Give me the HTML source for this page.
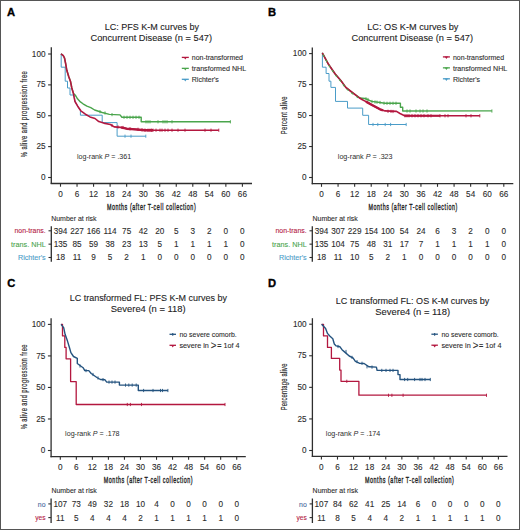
<!DOCTYPE html>
<html><head><meta charset="utf-8"><style>
html,body{margin:0;padding:0;background:#fff;}
body{width:520px;height:530px;overflow:hidden;}
svg{display:block;font-family:"Liberation Sans", sans-serif;}
</style></head><body>
<svg width="520" height="530" viewBox="0 0 520 530">
<rect x="0" y="0" width="520" height="530" fill="#fff"/>
<g>
<line x1="51.30" y1="47.30" x2="51.30" y2="184.10" stroke="#2e2e2e" stroke-width="1.3"/>
<line x1="50.70" y1="183.50" x2="252.00" y2="183.50" stroke="#2e2e2e" stroke-width="1.3"/>
<line x1="48.10" y1="177.50" x2="51.30" y2="177.50" stroke="#2e2e2e" stroke-width="1.1"/>
<text x="45.50" y="180.10" font-size="8.2" text-anchor="end" fill="#2c2c2c" stroke="#2c2c2c" stroke-width="0.1" >0</text>
<line x1="48.10" y1="146.62" x2="51.30" y2="146.62" stroke="#2e2e2e" stroke-width="1.1"/>
<text x="45.50" y="149.22" font-size="8.2" text-anchor="end" fill="#2c2c2c" stroke="#2c2c2c" stroke-width="0.1" >25</text>
<line x1="48.10" y1="115.75" x2="51.30" y2="115.75" stroke="#2e2e2e" stroke-width="1.1"/>
<text x="45.50" y="118.35" font-size="8.2" text-anchor="end" fill="#2c2c2c" stroke="#2c2c2c" stroke-width="0.1" >50</text>
<line x1="48.10" y1="84.88" x2="51.30" y2="84.88" stroke="#2e2e2e" stroke-width="1.1"/>
<text x="45.50" y="87.47" font-size="8.2" text-anchor="end" fill="#2c2c2c" stroke="#2c2c2c" stroke-width="0.1" >75</text>
<line x1="48.10" y1="54.00" x2="51.30" y2="54.00" stroke="#2e2e2e" stroke-width="1.1"/>
<text x="45.50" y="56.60" font-size="8.2" text-anchor="end" fill="#2c2c2c" stroke="#2c2c2c" stroke-width="0.1" >100</text>
<line x1="60.50" y1="183.50" x2="60.50" y2="186.70" stroke="#2e2e2e" stroke-width="1.1"/>
<text x="60.50" y="196.70" font-size="8.2" text-anchor="middle" fill="#2c2c2c" stroke="#2c2c2c" stroke-width="0.1" >0</text>
<line x1="77.04" y1="183.50" x2="77.04" y2="186.70" stroke="#2e2e2e" stroke-width="1.1"/>
<text x="77.04" y="196.70" font-size="8.2" text-anchor="middle" fill="#2c2c2c" stroke="#2c2c2c" stroke-width="0.1" >6</text>
<line x1="93.57" y1="183.50" x2="93.57" y2="186.70" stroke="#2e2e2e" stroke-width="1.1"/>
<text x="93.57" y="196.70" font-size="8.2" text-anchor="middle" fill="#2c2c2c" stroke="#2c2c2c" stroke-width="0.1" >12</text>
<line x1="110.11" y1="183.50" x2="110.11" y2="186.70" stroke="#2e2e2e" stroke-width="1.1"/>
<text x="110.11" y="196.70" font-size="8.2" text-anchor="middle" fill="#2c2c2c" stroke="#2c2c2c" stroke-width="0.1" >18</text>
<line x1="126.65" y1="183.50" x2="126.65" y2="186.70" stroke="#2e2e2e" stroke-width="1.1"/>
<text x="126.65" y="196.70" font-size="8.2" text-anchor="middle" fill="#2c2c2c" stroke="#2c2c2c" stroke-width="0.1" >24</text>
<line x1="143.18" y1="183.50" x2="143.18" y2="186.70" stroke="#2e2e2e" stroke-width="1.1"/>
<text x="143.18" y="196.70" font-size="8.2" text-anchor="middle" fill="#2c2c2c" stroke="#2c2c2c" stroke-width="0.1" >30</text>
<line x1="159.72" y1="183.50" x2="159.72" y2="186.70" stroke="#2e2e2e" stroke-width="1.1"/>
<text x="159.72" y="196.70" font-size="8.2" text-anchor="middle" fill="#2c2c2c" stroke="#2c2c2c" stroke-width="0.1" >36</text>
<line x1="176.25" y1="183.50" x2="176.25" y2="186.70" stroke="#2e2e2e" stroke-width="1.1"/>
<text x="176.25" y="196.70" font-size="8.2" text-anchor="middle" fill="#2c2c2c" stroke="#2c2c2c" stroke-width="0.1" >42</text>
<line x1="192.79" y1="183.50" x2="192.79" y2="186.70" stroke="#2e2e2e" stroke-width="1.1"/>
<text x="192.79" y="196.70" font-size="8.2" text-anchor="middle" fill="#2c2c2c" stroke="#2c2c2c" stroke-width="0.1" >48</text>
<line x1="209.33" y1="183.50" x2="209.33" y2="186.70" stroke="#2e2e2e" stroke-width="1.1"/>
<text x="209.33" y="196.70" font-size="8.2" text-anchor="middle" fill="#2c2c2c" stroke="#2c2c2c" stroke-width="0.1" >54</text>
<line x1="225.86" y1="183.50" x2="225.86" y2="186.70" stroke="#2e2e2e" stroke-width="1.1"/>
<text x="225.86" y="196.70" font-size="8.2" text-anchor="middle" fill="#2c2c2c" stroke="#2c2c2c" stroke-width="0.1" >60</text>
<line x1="242.40" y1="183.50" x2="242.40" y2="186.70" stroke="#2e2e2e" stroke-width="1.1"/>
<text x="242.40" y="196.70" font-size="8.2" text-anchor="middle" fill="#2c2c2c" stroke="#2c2c2c" stroke-width="0.1" >66</text>
<text x="0" y="0" font-size="9.8" fill="#1e1e1e" stroke="#1e1e1e" stroke-width="0.4" transform="translate(106.90,209.60) scale(0.55,1)" textLength="161.45" lengthAdjust="spacing">Months (after T-cell collection)</text>
<text x="0" y="0" font-size="9.6" text-anchor="middle" fill="#222" stroke="#222" stroke-width="0.15" transform="translate(26.70,114.20) rotate(-90) scale(0.6,1)" textLength="143.33" lengthAdjust="spacing">% alive and progression free</text>
<text x="151.85" y="30.40" font-size="9.5" text-anchor="middle" fill="#222" stroke="#222" stroke-width="0.1" textLength="94.20" lengthAdjust="spacingAndGlyphs" >LC: PFS K-M curves by</text>
<text x="151.25" y="41.30" font-size="9.5" text-anchor="middle" fill="#222" stroke="#222" stroke-width="0.1" textLength="121.50" lengthAdjust="spacingAndGlyphs" >Concurrent Disease (n = 547)</text>
<text x="6.90" y="16.30" font-size="11.2" text-anchor="start" fill="#000" font-weight="bold" stroke="#000" stroke-width="0.35">A</text>
<text x="77.00" y="159.10" font-size="7.1" fill="#2c2c2c" textLength="54.20" lengthAdjust="spacingAndGlyphs">log-rank <tspan font-style="italic">P</tspan> = .361</text>
<line x1="181.80" y1="57.40" x2="188.80" y2="57.40" stroke="#b3173f" stroke-width="1.3"/>
<path d="M183.60,57.10 L187.00,57.10 L185.30,59.60 Z" fill="#b3173f"/>
<text x="191.80" y="60.10" font-size="7.5" text-anchor="start" fill="#2c2c2c" stroke="#2c2c2c" stroke-width="0.1" textLength="51.20" lengthAdjust="spacingAndGlyphs" >non-transformed</text>
<line x1="181.80" y1="68.35" x2="188.80" y2="68.35" stroke="#4aa54c" stroke-width="1.3"/>
<path d="M183.60,68.05 L187.00,68.05 L185.30,70.55 Z" fill="#4aa54c"/>
<text x="191.80" y="71.05" font-size="7.5" text-anchor="start" fill="#2c2c2c" stroke="#2c2c2c" stroke-width="0.1" textLength="54.40" lengthAdjust="spacingAndGlyphs" >transformed NHL</text>
<line x1="181.80" y1="79.30" x2="188.80" y2="79.30" stroke="#4a9cc8" stroke-width="1.3"/>
<path d="M183.60,79.00 L187.00,79.00 L185.30,81.50 Z" fill="#4a9cc8"/>
<text x="191.80" y="82.00" font-size="7.5" text-anchor="start" fill="#2c2c2c" stroke="#2c2c2c" stroke-width="0.1" textLength="27.10" lengthAdjust="spacingAndGlyphs" >Richter's</text>
<text x="51.20" y="221.10" font-size="7.1" text-anchor="start" fill="#2c2c2c" stroke="#2c2c2c" stroke-width="0.1" textLength="45.30" lengthAdjust="spacingAndGlyphs" >Number at risk</text>
<line x1="51.30" y1="226.20" x2="51.30" y2="261.80" stroke="#2e2e2e" stroke-width="1.3"/>
<line x1="48.50" y1="230.80" x2="51.30" y2="230.80" stroke="#2e2e2e" stroke-width="1.1"/>
<text x="45.70" y="233.40" font-size="7.3" text-anchor="end" fill="#b3173f" stroke="#b3173f" stroke-width="0.1" textLength="31.20" lengthAdjust="spacingAndGlyphs" >non-trans.</text>
<text x="60.50" y="233.70" font-size="8.2" text-anchor="middle" fill="#2c2c2c" stroke="#2c2c2c" stroke-width="0.1" >394</text>
<text x="77.04" y="233.70" font-size="8.2" text-anchor="middle" fill="#2c2c2c" stroke="#2c2c2c" stroke-width="0.1" >227</text>
<text x="93.57" y="233.70" font-size="8.2" text-anchor="middle" fill="#2c2c2c" stroke="#2c2c2c" stroke-width="0.1" >166</text>
<text x="110.11" y="233.70" font-size="8.2" text-anchor="middle" fill="#2c2c2c" stroke="#2c2c2c" stroke-width="0.1" >114</text>
<text x="126.65" y="233.70" font-size="8.2" text-anchor="middle" fill="#2c2c2c" stroke="#2c2c2c" stroke-width="0.1" >75</text>
<text x="143.18" y="233.70" font-size="8.2" text-anchor="middle" fill="#2c2c2c" stroke="#2c2c2c" stroke-width="0.1" >42</text>
<text x="159.72" y="233.70" font-size="8.2" text-anchor="middle" fill="#2c2c2c" stroke="#2c2c2c" stroke-width="0.1" >20</text>
<text x="176.25" y="233.70" font-size="8.2" text-anchor="middle" fill="#2c2c2c" stroke="#2c2c2c" stroke-width="0.1" >5</text>
<text x="192.79" y="233.70" font-size="8.2" text-anchor="middle" fill="#2c2c2c" stroke="#2c2c2c" stroke-width="0.1" >3</text>
<text x="209.33" y="233.70" font-size="8.2" text-anchor="middle" fill="#2c2c2c" stroke="#2c2c2c" stroke-width="0.1" >2</text>
<text x="225.86" y="233.70" font-size="8.2" text-anchor="middle" fill="#2c2c2c" stroke="#2c2c2c" stroke-width="0.1" >0</text>
<text x="242.40" y="233.70" font-size="8.2" text-anchor="middle" fill="#2c2c2c" stroke="#2c2c2c" stroke-width="0.1" >0</text>
<line x1="48.50" y1="244.15" x2="51.30" y2="244.15" stroke="#2e2e2e" stroke-width="1.1"/>
<text x="45.70" y="246.75" font-size="7.3" text-anchor="end" fill="#4aa54c" stroke="#4aa54c" stroke-width="0.1" textLength="34.60" lengthAdjust="spacingAndGlyphs" >trans. NHL</text>
<text x="60.50" y="247.05" font-size="8.2" text-anchor="middle" fill="#2c2c2c" stroke="#2c2c2c" stroke-width="0.1" >135</text>
<text x="77.04" y="247.05" font-size="8.2" text-anchor="middle" fill="#2c2c2c" stroke="#2c2c2c" stroke-width="0.1" >85</text>
<text x="93.57" y="247.05" font-size="8.2" text-anchor="middle" fill="#2c2c2c" stroke="#2c2c2c" stroke-width="0.1" >59</text>
<text x="110.11" y="247.05" font-size="8.2" text-anchor="middle" fill="#2c2c2c" stroke="#2c2c2c" stroke-width="0.1" >38</text>
<text x="126.65" y="247.05" font-size="8.2" text-anchor="middle" fill="#2c2c2c" stroke="#2c2c2c" stroke-width="0.1" >23</text>
<text x="143.18" y="247.05" font-size="8.2" text-anchor="middle" fill="#2c2c2c" stroke="#2c2c2c" stroke-width="0.1" >13</text>
<text x="159.72" y="247.05" font-size="8.2" text-anchor="middle" fill="#2c2c2c" stroke="#2c2c2c" stroke-width="0.1" >5</text>
<text x="176.25" y="247.05" font-size="8.2" text-anchor="middle" fill="#2c2c2c" stroke="#2c2c2c" stroke-width="0.1" >1</text>
<text x="192.79" y="247.05" font-size="8.2" text-anchor="middle" fill="#2c2c2c" stroke="#2c2c2c" stroke-width="0.1" >1</text>
<text x="209.33" y="247.05" font-size="8.2" text-anchor="middle" fill="#2c2c2c" stroke="#2c2c2c" stroke-width="0.1" >1</text>
<text x="225.86" y="247.05" font-size="8.2" text-anchor="middle" fill="#2c2c2c" stroke="#2c2c2c" stroke-width="0.1" >1</text>
<text x="242.40" y="247.05" font-size="8.2" text-anchor="middle" fill="#2c2c2c" stroke="#2c2c2c" stroke-width="0.1" >0</text>
<line x1="48.50" y1="257.50" x2="51.30" y2="257.50" stroke="#2e2e2e" stroke-width="1.1"/>
<text x="45.70" y="260.10" font-size="7.3" text-anchor="end" fill="#4a9cc8" stroke="#4a9cc8" stroke-width="0.1" textLength="27.70" lengthAdjust="spacingAndGlyphs" >Richter's</text>
<text x="60.50" y="260.40" font-size="8.2" text-anchor="middle" fill="#2c2c2c" stroke="#2c2c2c" stroke-width="0.1" >18</text>
<text x="77.04" y="260.40" font-size="8.2" text-anchor="middle" fill="#2c2c2c" stroke="#2c2c2c" stroke-width="0.1" >11</text>
<text x="93.57" y="260.40" font-size="8.2" text-anchor="middle" fill="#2c2c2c" stroke="#2c2c2c" stroke-width="0.1" >9</text>
<text x="110.11" y="260.40" font-size="8.2" text-anchor="middle" fill="#2c2c2c" stroke="#2c2c2c" stroke-width="0.1" >5</text>
<text x="126.65" y="260.40" font-size="8.2" text-anchor="middle" fill="#2c2c2c" stroke="#2c2c2c" stroke-width="0.1" >2</text>
<text x="143.18" y="260.40" font-size="8.2" text-anchor="middle" fill="#2c2c2c" stroke="#2c2c2c" stroke-width="0.1" >1</text>
<text x="159.72" y="260.40" font-size="8.2" text-anchor="middle" fill="#2c2c2c" stroke="#2c2c2c" stroke-width="0.1" >0</text>
<text x="176.25" y="260.40" font-size="8.2" text-anchor="middle" fill="#2c2c2c" stroke="#2c2c2c" stroke-width="0.1" >0</text>
<text x="192.79" y="260.40" font-size="8.2" text-anchor="middle" fill="#2c2c2c" stroke="#2c2c2c" stroke-width="0.1" >0</text>
<text x="209.33" y="260.40" font-size="8.2" text-anchor="middle" fill="#2c2c2c" stroke="#2c2c2c" stroke-width="0.1" >0</text>
<text x="225.86" y="260.40" font-size="8.2" text-anchor="middle" fill="#2c2c2c" stroke="#2c2c2c" stroke-width="0.1" >0</text>
<text x="242.40" y="260.40" font-size="8.2" text-anchor="middle" fill="#2c2c2c" stroke="#2c2c2c" stroke-width="0.1" >0</text>
<polyline points="61.20,53.80 61.20,67.20 65.20,67.20 65.20,81.20 67.50,81.20 67.50,88.00 70.00,88.00 70.00,95.00 73.80,95.00 74.20,97.70 75.00,101.50 77.70,106.20 80.40,110.40 80.40,115.20 102.20,115.20 102.20,122.60 117.10,122.60 117.10,136.20 145.80,136.20" fill="none" stroke="#4a9cc8" stroke-width="1.0" stroke-linejoin="round" />
<line x1="125.00" y1="134.60" x2="125.00" y2="137.80" stroke="#4a9cc8" stroke-width="0.9"/>
<line x1="131.00" y1="134.60" x2="131.00" y2="137.80" stroke="#4a9cc8" stroke-width="0.9"/>
<line x1="145.80" y1="134.60" x2="145.80" y2="137.80" stroke="#4a9cc8" stroke-width="0.9"/>
<polyline points="61.00,53.80 63.30,55.70 64.50,58.00 65.60,63.40 66.80,70.30 68.70,76.50 70.60,81.80 71.80,88.00 73.50,93.40 75.60,95.60 77.50,98.80 80.40,101.90 83.00,103.80 86.90,106.20 90.80,107.70 94.60,110.00 99.20,111.50 102.20,112.50 109.40,114.40 120.00,114.90 121.90,117.30 141.20,117.30 141.20,121.70 230.40,121.80" fill="none" stroke="#4aa54c" stroke-width="1.4" stroke-linejoin="round" />
<line x1="100.00" y1="110.10" x2="100.00" y2="113.30" stroke="#4aa54c" stroke-width="0.9"/>
<line x1="105.00" y1="111.40" x2="105.00" y2="114.60" stroke="#4aa54c" stroke-width="0.9"/>
<line x1="112.00" y1="113.00" x2="112.00" y2="116.20" stroke="#4aa54c" stroke-width="0.9"/>
<line x1="124.00" y1="115.70" x2="124.00" y2="118.90" stroke="#4aa54c" stroke-width="0.9"/>
<line x1="127.00" y1="115.70" x2="127.00" y2="118.90" stroke="#4aa54c" stroke-width="0.9"/>
<line x1="130.00" y1="115.70" x2="130.00" y2="118.90" stroke="#4aa54c" stroke-width="0.9"/>
<line x1="133.00" y1="115.70" x2="133.00" y2="118.90" stroke="#4aa54c" stroke-width="0.9"/>
<line x1="136.00" y1="115.70" x2="136.00" y2="118.90" stroke="#4aa54c" stroke-width="0.9"/>
<line x1="139.00" y1="115.70" x2="139.00" y2="118.90" stroke="#4aa54c" stroke-width="0.9"/>
<line x1="146.00" y1="120.20" x2="146.00" y2="123.40" stroke="#4aa54c" stroke-width="0.9"/>
<line x1="148.00" y1="120.20" x2="148.00" y2="123.40" stroke="#4aa54c" stroke-width="0.9"/>
<line x1="150.00" y1="120.20" x2="150.00" y2="123.40" stroke="#4aa54c" stroke-width="0.9"/>
<line x1="158.00" y1="120.20" x2="158.00" y2="123.40" stroke="#4aa54c" stroke-width="0.9"/>
<line x1="163.00" y1="120.20" x2="163.00" y2="123.40" stroke="#4aa54c" stroke-width="0.9"/>
<line x1="165.00" y1="120.20" x2="165.00" y2="123.40" stroke="#4aa54c" stroke-width="0.9"/>
<line x1="167.00" y1="120.20" x2="167.00" y2="123.40" stroke="#4aa54c" stroke-width="0.9"/>
<line x1="172.00" y1="120.20" x2="172.00" y2="123.40" stroke="#4aa54c" stroke-width="0.9"/>
<line x1="230.40" y1="120.20" x2="230.40" y2="123.40" stroke="#4aa54c" stroke-width="0.9"/>
<polyline points="61.00,53.80 63.30,55.70 64.50,58.00 65.60,63.40 66.80,70.30 68.70,76.50 70.60,81.80 71.80,88.00 73.50,93.80 74.20,97.70 75.00,101.50 77.70,106.20 80.80,110.80 85.40,114.20 90.00,116.90 95.00,118.50 98.80,121.60 103.70,123.10 110.40,124.50 114.20,126.90 121.00,127.40 126.70,128.70 135.40,129.40 145.00,130.20 160.00,130.20 218.80,130.20" fill="none" stroke="#b3173f" stroke-width="1.6" stroke-linejoin="round" />
<polyline points="121.00,127.40 126.70,128.70 135.40,129.40 145.00,130.20 153.00,130.20" fill="none" stroke="#b3173f" stroke-width="2.4" stroke-linejoin="round" />
<line x1="112.00" y1="123.90" x2="112.00" y2="127.10" stroke="#b3173f" stroke-width="0.9"/>
<line x1="118.00" y1="125.40" x2="118.00" y2="128.60" stroke="#b3173f" stroke-width="0.9"/>
<line x1="123.00" y1="125.90" x2="123.00" y2="129.10" stroke="#b3173f" stroke-width="0.9"/>
<line x1="130.00" y1="127.20" x2="130.00" y2="130.40" stroke="#b3173f" stroke-width="0.9"/>
<line x1="138.00" y1="127.70" x2="138.00" y2="130.90" stroke="#b3173f" stroke-width="0.9"/>
<line x1="142.00" y1="128.20" x2="142.00" y2="131.40" stroke="#b3173f" stroke-width="0.9"/>
<line x1="145.00" y1="128.50" x2="145.00" y2="131.70" stroke="#b3173f" stroke-width="0.9"/>
<line x1="148.00" y1="128.60" x2="148.00" y2="131.80" stroke="#b3173f" stroke-width="0.9"/>
<line x1="150.00" y1="128.60" x2="150.00" y2="131.80" stroke="#b3173f" stroke-width="0.9"/>
<line x1="151.50" y1="128.60" x2="151.50" y2="131.80" stroke="#b3173f" stroke-width="0.9"/>
<line x1="153.00" y1="128.60" x2="153.00" y2="131.80" stroke="#b3173f" stroke-width="0.9"/>
<line x1="156.00" y1="128.60" x2="156.00" y2="131.80" stroke="#b3173f" stroke-width="0.9"/>
<line x1="160.00" y1="128.60" x2="160.00" y2="131.80" stroke="#b3173f" stroke-width="0.9"/>
<line x1="162.00" y1="128.60" x2="162.00" y2="131.80" stroke="#b3173f" stroke-width="0.9"/>
<line x1="165.00" y1="128.60" x2="165.00" y2="131.80" stroke="#b3173f" stroke-width="0.9"/>
<line x1="168.00" y1="128.60" x2="168.00" y2="131.80" stroke="#b3173f" stroke-width="0.9"/>
<line x1="172.00" y1="128.60" x2="172.00" y2="131.80" stroke="#b3173f" stroke-width="0.9"/>
<line x1="178.00" y1="128.60" x2="178.00" y2="131.80" stroke="#b3173f" stroke-width="0.9"/>
<line x1="185.00" y1="128.60" x2="185.00" y2="131.80" stroke="#b3173f" stroke-width="0.9"/>
<line x1="205.00" y1="128.60" x2="205.00" y2="131.80" stroke="#b3173f" stroke-width="0.9"/>
<line x1="211.00" y1="128.60" x2="211.00" y2="131.80" stroke="#b3173f" stroke-width="0.9"/>
<line x1="218.80" y1="128.60" x2="218.80" y2="131.80" stroke="#b3173f" stroke-width="0.9"/>
<line x1="312.30" y1="47.50" x2="312.30" y2="184.20" stroke="#2e2e2e" stroke-width="1.3"/>
<line x1="311.70" y1="183.60" x2="513.30" y2="183.60" stroke="#2e2e2e" stroke-width="1.3"/>
<line x1="309.10" y1="177.50" x2="312.30" y2="177.50" stroke="#2e2e2e" stroke-width="1.1"/>
<text x="306.50" y="180.10" font-size="8.2" text-anchor="end" fill="#2c2c2c" stroke="#2c2c2c" stroke-width="0.1" >0</text>
<line x1="309.10" y1="146.53" x2="312.30" y2="146.53" stroke="#2e2e2e" stroke-width="1.1"/>
<text x="306.50" y="149.12" font-size="8.2" text-anchor="end" fill="#2c2c2c" stroke="#2c2c2c" stroke-width="0.1" >25</text>
<line x1="309.10" y1="115.55" x2="312.30" y2="115.55" stroke="#2e2e2e" stroke-width="1.1"/>
<text x="306.50" y="118.15" font-size="8.2" text-anchor="end" fill="#2c2c2c" stroke="#2c2c2c" stroke-width="0.1" >50</text>
<line x1="309.10" y1="84.58" x2="312.30" y2="84.58" stroke="#2e2e2e" stroke-width="1.1"/>
<text x="306.50" y="87.17" font-size="8.2" text-anchor="end" fill="#2c2c2c" stroke="#2c2c2c" stroke-width="0.1" >75</text>
<line x1="309.10" y1="53.60" x2="312.30" y2="53.60" stroke="#2e2e2e" stroke-width="1.1"/>
<text x="306.50" y="56.20" font-size="8.2" text-anchor="end" fill="#2c2c2c" stroke="#2c2c2c" stroke-width="0.1" >100</text>
<line x1="321.50" y1="183.60" x2="321.50" y2="186.80" stroke="#2e2e2e" stroke-width="1.1"/>
<text x="321.50" y="196.80" font-size="8.2" text-anchor="middle" fill="#2c2c2c" stroke="#2c2c2c" stroke-width="0.1" >0</text>
<line x1="338.07" y1="183.60" x2="338.07" y2="186.80" stroke="#2e2e2e" stroke-width="1.1"/>
<text x="338.07" y="196.80" font-size="8.2" text-anchor="middle" fill="#2c2c2c" stroke="#2c2c2c" stroke-width="0.1" >6</text>
<line x1="354.65" y1="183.60" x2="354.65" y2="186.80" stroke="#2e2e2e" stroke-width="1.1"/>
<text x="354.65" y="196.80" font-size="8.2" text-anchor="middle" fill="#2c2c2c" stroke="#2c2c2c" stroke-width="0.1" >12</text>
<line x1="371.22" y1="183.60" x2="371.22" y2="186.80" stroke="#2e2e2e" stroke-width="1.1"/>
<text x="371.22" y="196.80" font-size="8.2" text-anchor="middle" fill="#2c2c2c" stroke="#2c2c2c" stroke-width="0.1" >18</text>
<line x1="387.79" y1="183.60" x2="387.79" y2="186.80" stroke="#2e2e2e" stroke-width="1.1"/>
<text x="387.79" y="196.80" font-size="8.2" text-anchor="middle" fill="#2c2c2c" stroke="#2c2c2c" stroke-width="0.1" >24</text>
<line x1="404.36" y1="183.60" x2="404.36" y2="186.80" stroke="#2e2e2e" stroke-width="1.1"/>
<text x="404.36" y="196.80" font-size="8.2" text-anchor="middle" fill="#2c2c2c" stroke="#2c2c2c" stroke-width="0.1" >30</text>
<line x1="420.94" y1="183.60" x2="420.94" y2="186.80" stroke="#2e2e2e" stroke-width="1.1"/>
<text x="420.94" y="196.80" font-size="8.2" text-anchor="middle" fill="#2c2c2c" stroke="#2c2c2c" stroke-width="0.1" >36</text>
<line x1="437.51" y1="183.60" x2="437.51" y2="186.80" stroke="#2e2e2e" stroke-width="1.1"/>
<text x="437.51" y="196.80" font-size="8.2" text-anchor="middle" fill="#2c2c2c" stroke="#2c2c2c" stroke-width="0.1" >42</text>
<line x1="454.08" y1="183.60" x2="454.08" y2="186.80" stroke="#2e2e2e" stroke-width="1.1"/>
<text x="454.08" y="196.80" font-size="8.2" text-anchor="middle" fill="#2c2c2c" stroke="#2c2c2c" stroke-width="0.1" >48</text>
<line x1="470.65" y1="183.60" x2="470.65" y2="186.80" stroke="#2e2e2e" stroke-width="1.1"/>
<text x="470.65" y="196.80" font-size="8.2" text-anchor="middle" fill="#2c2c2c" stroke="#2c2c2c" stroke-width="0.1" >54</text>
<line x1="487.23" y1="183.60" x2="487.23" y2="186.80" stroke="#2e2e2e" stroke-width="1.1"/>
<text x="487.23" y="196.80" font-size="8.2" text-anchor="middle" fill="#2c2c2c" stroke="#2c2c2c" stroke-width="0.1" >60</text>
<line x1="503.80" y1="183.60" x2="503.80" y2="186.80" stroke="#2e2e2e" stroke-width="1.1"/>
<text x="503.80" y="196.80" font-size="8.2" text-anchor="middle" fill="#2c2c2c" stroke="#2c2c2c" stroke-width="0.1" >66</text>
<text x="0" y="0" font-size="9.8" fill="#1e1e1e" stroke="#1e1e1e" stroke-width="0.4" transform="translate(368.50,209.50) scale(0.55,1)" textLength="161.45" lengthAdjust="spacing">Months (after T-cell collection)</text>
<text x="0" y="0" font-size="9.6" text-anchor="middle" fill="#222" stroke="#222" stroke-width="0.15" transform="translate(287.20,115.30) rotate(-90) scale(0.6,1)" textLength="62.83" lengthAdjust="spacing">Percent alive</text>
<text x="412.85" y="30.40" font-size="9.5" text-anchor="middle" fill="#222" stroke="#222" stroke-width="0.1" textLength="91.20" lengthAdjust="spacingAndGlyphs" >LC: OS K-M curves by</text>
<text x="412.25" y="41.30" font-size="9.5" text-anchor="middle" fill="#222" stroke="#222" stroke-width="0.1" textLength="121.50" lengthAdjust="spacingAndGlyphs" >Concurrent Disease (n = 547)</text>
<text x="268.10" y="16.20" font-size="11.2" text-anchor="start" fill="#000" font-weight="bold" stroke="#000" stroke-width="0.35">B</text>
<text x="337.80" y="159.10" font-size="7.1" fill="#2c2c2c" textLength="54.80" lengthAdjust="spacingAndGlyphs">log-rank <tspan font-style="italic">P</tspan> = .323</text>
<line x1="442.90" y1="56.90" x2="449.90" y2="56.90" stroke="#b3173f" stroke-width="1.3"/>
<path d="M444.70,56.60 L448.10,56.60 L446.40,59.10 Z" fill="#b3173f"/>
<text x="452.90" y="59.60" font-size="7.5" text-anchor="start" fill="#2c2c2c" stroke="#2c2c2c" stroke-width="0.1" textLength="51.20" lengthAdjust="spacingAndGlyphs" >non-transformed</text>
<line x1="442.90" y1="67.85" x2="449.90" y2="67.85" stroke="#4aa54c" stroke-width="1.3"/>
<path d="M444.70,67.55 L448.10,67.55 L446.40,70.05 Z" fill="#4aa54c"/>
<text x="452.90" y="70.55" font-size="7.5" text-anchor="start" fill="#2c2c2c" stroke="#2c2c2c" stroke-width="0.1" textLength="54.40" lengthAdjust="spacingAndGlyphs" >transformed NHL</text>
<line x1="442.90" y1="78.80" x2="449.90" y2="78.80" stroke="#4a9cc8" stroke-width="1.3"/>
<path d="M444.70,78.50 L448.10,78.50 L446.40,81.00 Z" fill="#4a9cc8"/>
<text x="452.90" y="81.50" font-size="7.5" text-anchor="start" fill="#2c2c2c" stroke="#2c2c2c" stroke-width="0.1" textLength="27.10" lengthAdjust="spacingAndGlyphs" >Richter's</text>
<text x="312.50" y="221.10" font-size="7.1" text-anchor="start" fill="#2c2c2c" stroke="#2c2c2c" stroke-width="0.1" textLength="45.30" lengthAdjust="spacingAndGlyphs" >Number at risk</text>
<line x1="312.30" y1="226.20" x2="312.30" y2="261.80" stroke="#2e2e2e" stroke-width="1.3"/>
<line x1="309.50" y1="230.80" x2="312.30" y2="230.80" stroke="#2e2e2e" stroke-width="1.1"/>
<text x="306.70" y="233.40" font-size="7.3" text-anchor="end" fill="#b3173f" stroke="#b3173f" stroke-width="0.1" textLength="31.20" lengthAdjust="spacingAndGlyphs" >non-trans.</text>
<text x="321.50" y="233.70" font-size="8.2" text-anchor="middle" fill="#2c2c2c" stroke="#2c2c2c" stroke-width="0.1" >394</text>
<text x="338.07" y="233.70" font-size="8.2" text-anchor="middle" fill="#2c2c2c" stroke="#2c2c2c" stroke-width="0.1" >307</text>
<text x="354.65" y="233.70" font-size="8.2" text-anchor="middle" fill="#2c2c2c" stroke="#2c2c2c" stroke-width="0.1" >229</text>
<text x="371.22" y="233.70" font-size="8.2" text-anchor="middle" fill="#2c2c2c" stroke="#2c2c2c" stroke-width="0.1" >154</text>
<text x="387.79" y="233.70" font-size="8.2" text-anchor="middle" fill="#2c2c2c" stroke="#2c2c2c" stroke-width="0.1" >100</text>
<text x="404.36" y="233.70" font-size="8.2" text-anchor="middle" fill="#2c2c2c" stroke="#2c2c2c" stroke-width="0.1" >54</text>
<text x="420.94" y="233.70" font-size="8.2" text-anchor="middle" fill="#2c2c2c" stroke="#2c2c2c" stroke-width="0.1" >24</text>
<text x="437.51" y="233.70" font-size="8.2" text-anchor="middle" fill="#2c2c2c" stroke="#2c2c2c" stroke-width="0.1" >6</text>
<text x="454.08" y="233.70" font-size="8.2" text-anchor="middle" fill="#2c2c2c" stroke="#2c2c2c" stroke-width="0.1" >3</text>
<text x="470.65" y="233.70" font-size="8.2" text-anchor="middle" fill="#2c2c2c" stroke="#2c2c2c" stroke-width="0.1" >2</text>
<text x="487.23" y="233.70" font-size="8.2" text-anchor="middle" fill="#2c2c2c" stroke="#2c2c2c" stroke-width="0.1" >0</text>
<text x="503.80" y="233.70" font-size="8.2" text-anchor="middle" fill="#2c2c2c" stroke="#2c2c2c" stroke-width="0.1" >0</text>
<line x1="309.50" y1="244.15" x2="312.30" y2="244.15" stroke="#2e2e2e" stroke-width="1.1"/>
<text x="306.70" y="246.75" font-size="7.3" text-anchor="end" fill="#4aa54c" stroke="#4aa54c" stroke-width="0.1" textLength="34.60" lengthAdjust="spacingAndGlyphs" >trans. NHL</text>
<text x="321.50" y="247.05" font-size="8.2" text-anchor="middle" fill="#2c2c2c" stroke="#2c2c2c" stroke-width="0.1" >135</text>
<text x="338.07" y="247.05" font-size="8.2" text-anchor="middle" fill="#2c2c2c" stroke="#2c2c2c" stroke-width="0.1" >104</text>
<text x="354.65" y="247.05" font-size="8.2" text-anchor="middle" fill="#2c2c2c" stroke="#2c2c2c" stroke-width="0.1" >75</text>
<text x="371.22" y="247.05" font-size="8.2" text-anchor="middle" fill="#2c2c2c" stroke="#2c2c2c" stroke-width="0.1" >48</text>
<text x="387.79" y="247.05" font-size="8.2" text-anchor="middle" fill="#2c2c2c" stroke="#2c2c2c" stroke-width="0.1" >31</text>
<text x="404.36" y="247.05" font-size="8.2" text-anchor="middle" fill="#2c2c2c" stroke="#2c2c2c" stroke-width="0.1" >17</text>
<text x="420.94" y="247.05" font-size="8.2" text-anchor="middle" fill="#2c2c2c" stroke="#2c2c2c" stroke-width="0.1" >7</text>
<text x="437.51" y="247.05" font-size="8.2" text-anchor="middle" fill="#2c2c2c" stroke="#2c2c2c" stroke-width="0.1" >1</text>
<text x="454.08" y="247.05" font-size="8.2" text-anchor="middle" fill="#2c2c2c" stroke="#2c2c2c" stroke-width="0.1" >1</text>
<text x="470.65" y="247.05" font-size="8.2" text-anchor="middle" fill="#2c2c2c" stroke="#2c2c2c" stroke-width="0.1" >1</text>
<text x="487.23" y="247.05" font-size="8.2" text-anchor="middle" fill="#2c2c2c" stroke="#2c2c2c" stroke-width="0.1" >1</text>
<text x="503.80" y="247.05" font-size="8.2" text-anchor="middle" fill="#2c2c2c" stroke="#2c2c2c" stroke-width="0.1" >0</text>
<line x1="309.50" y1="257.50" x2="312.30" y2="257.50" stroke="#2e2e2e" stroke-width="1.1"/>
<text x="306.70" y="260.10" font-size="7.3" text-anchor="end" fill="#4a9cc8" stroke="#4a9cc8" stroke-width="0.1" textLength="27.70" lengthAdjust="spacingAndGlyphs" >Richter's</text>
<text x="321.50" y="260.40" font-size="8.2" text-anchor="middle" fill="#2c2c2c" stroke="#2c2c2c" stroke-width="0.1" >18</text>
<text x="338.07" y="260.40" font-size="8.2" text-anchor="middle" fill="#2c2c2c" stroke="#2c2c2c" stroke-width="0.1" >11</text>
<text x="354.65" y="260.40" font-size="8.2" text-anchor="middle" fill="#2c2c2c" stroke="#2c2c2c" stroke-width="0.1" >10</text>
<text x="371.22" y="260.40" font-size="8.2" text-anchor="middle" fill="#2c2c2c" stroke="#2c2c2c" stroke-width="0.1" >5</text>
<text x="387.79" y="260.40" font-size="8.2" text-anchor="middle" fill="#2c2c2c" stroke="#2c2c2c" stroke-width="0.1" >2</text>
<text x="404.36" y="260.40" font-size="8.2" text-anchor="middle" fill="#2c2c2c" stroke="#2c2c2c" stroke-width="0.1" >1</text>
<text x="420.94" y="260.40" font-size="8.2" text-anchor="middle" fill="#2c2c2c" stroke="#2c2c2c" stroke-width="0.1" >0</text>
<text x="437.51" y="260.40" font-size="8.2" text-anchor="middle" fill="#2c2c2c" stroke="#2c2c2c" stroke-width="0.1" >0</text>
<text x="454.08" y="260.40" font-size="8.2" text-anchor="middle" fill="#2c2c2c" stroke="#2c2c2c" stroke-width="0.1" >0</text>
<text x="470.65" y="260.40" font-size="8.2" text-anchor="middle" fill="#2c2c2c" stroke="#2c2c2c" stroke-width="0.1" >0</text>
<text x="487.23" y="260.40" font-size="8.2" text-anchor="middle" fill="#2c2c2c" stroke="#2c2c2c" stroke-width="0.1" >0</text>
<text x="503.80" y="260.40" font-size="8.2" text-anchor="middle" fill="#2c2c2c" stroke="#2c2c2c" stroke-width="0.1" >0</text>
<polyline points="322.40,52.80 322.40,52.80 322.40,67.20 326.10,67.20 326.10,73.50 329.00,73.50 329.00,81.20 330.90,81.20 330.90,87.40 335.50,87.40 335.50,101.40 347.50,101.40 347.50,108.10 362.70,108.10 362.70,115.30 368.60,115.30 368.60,124.50 406.20,124.50 406.20,124.50" fill="none" stroke="#4a9cc8" stroke-width="1.0" stroke-linejoin="round" />
<line x1="373.00" y1="122.90" x2="373.00" y2="126.10" stroke="#4a9cc8" stroke-width="0.9"/>
<line x1="377.80" y1="122.90" x2="377.80" y2="126.10" stroke="#4a9cc8" stroke-width="0.9"/>
<line x1="385.20" y1="122.90" x2="385.20" y2="126.10" stroke="#4a9cc8" stroke-width="0.9"/>
<line x1="390.60" y1="122.90" x2="390.60" y2="126.10" stroke="#4a9cc8" stroke-width="0.9"/>
<line x1="406.20" y1="122.90" x2="406.20" y2="126.10" stroke="#4a9cc8" stroke-width="0.9"/>
<polyline points="322.30,52.80 328.50,64.30 335.20,74.00 341.00,80.70 345.80,87.40 351.00,91.50 360.00,98.00 365.00,98.50 371.70,101.40 379.80,102.50 385.00,103.30 400.40,103.30 400.40,107.30 402.70,107.30 402.70,111.00 491.90,110.90" fill="none" stroke="#4aa54c" stroke-width="1.4" stroke-linejoin="round" />
<line x1="366.00" y1="97.20" x2="366.00" y2="100.40" stroke="#4aa54c" stroke-width="0.9"/>
<line x1="368.00" y1="97.90" x2="368.00" y2="101.10" stroke="#4aa54c" stroke-width="0.9"/>
<line x1="372.00" y1="99.90" x2="372.00" y2="103.10" stroke="#4aa54c" stroke-width="0.9"/>
<line x1="375.00" y1="100.40" x2="375.00" y2="103.60" stroke="#4aa54c" stroke-width="0.9"/>
<line x1="377.00" y1="100.60" x2="377.00" y2="103.80" stroke="#4aa54c" stroke-width="0.9"/>
<line x1="380.00" y1="100.90" x2="380.00" y2="104.10" stroke="#4aa54c" stroke-width="0.9"/>
<line x1="384.00" y1="101.60" x2="384.00" y2="104.80" stroke="#4aa54c" stroke-width="0.9"/>
<line x1="387.00" y1="101.70" x2="387.00" y2="104.90" stroke="#4aa54c" stroke-width="0.9"/>
<line x1="390.00" y1="101.70" x2="390.00" y2="104.90" stroke="#4aa54c" stroke-width="0.9"/>
<line x1="393.00" y1="101.70" x2="393.00" y2="104.90" stroke="#4aa54c" stroke-width="0.9"/>
<line x1="396.00" y1="101.70" x2="396.00" y2="104.90" stroke="#4aa54c" stroke-width="0.9"/>
<line x1="407.00" y1="109.40" x2="407.00" y2="112.60" stroke="#4aa54c" stroke-width="0.9"/>
<line x1="410.00" y1="109.40" x2="410.00" y2="112.60" stroke="#4aa54c" stroke-width="0.9"/>
<line x1="416.00" y1="109.40" x2="416.00" y2="112.60" stroke="#4aa54c" stroke-width="0.9"/>
<line x1="420.00" y1="109.40" x2="420.00" y2="112.60" stroke="#4aa54c" stroke-width="0.9"/>
<line x1="423.00" y1="109.40" x2="423.00" y2="112.60" stroke="#4aa54c" stroke-width="0.9"/>
<line x1="427.00" y1="109.40" x2="427.00" y2="112.60" stroke="#4aa54c" stroke-width="0.9"/>
<line x1="491.90" y1="109.40" x2="491.90" y2="112.60" stroke="#4aa54c" stroke-width="0.9"/>
<polyline points="322.30,52.80 328.50,64.30 335.20,74.00 341.00,80.70 345.80,87.40 351.00,91.50 360.00,98.30 362.00,99.50 366.00,101.60 372.00,105.00 380.00,109.30 385.00,110.90 396.50,111.40 400.00,113.50 404.60,115.70 479.80,115.80" fill="none" stroke="#b3173f" stroke-width="1.6" stroke-linejoin="round" />
<polyline points="366.00,101.60 372.00,105.00 380.00,109.30 383.00,110.30" fill="none" stroke="#b3173f" stroke-width="2.4" stroke-linejoin="round" />
<polyline points="404.60,115.70 440.00,115.80" fill="none" stroke="#b3173f" stroke-width="2.0" stroke-linejoin="round" />
<polyline points="323.00,54.50 329.00,65.60 335.60,75.30 341.30,82.00 346.00,88.60 351.00,92.60 360.00,99.20" fill="none" stroke="#4aa54c" stroke-width="1.1" stroke-linejoin="round" stroke-dasharray="2.5 3.5"/>
<line x1="388.00" y1="109.70" x2="388.00" y2="112.90" stroke="#b3173f" stroke-width="0.9"/>
<line x1="391.00" y1="109.80" x2="391.00" y2="113.00" stroke="#b3173f" stroke-width="0.9"/>
<line x1="393.00" y1="109.90" x2="393.00" y2="113.10" stroke="#b3173f" stroke-width="0.9"/>
<line x1="405.00" y1="114.20" x2="405.00" y2="117.40" stroke="#b3173f" stroke-width="0.9"/>
<line x1="407.00" y1="114.20" x2="407.00" y2="117.40" stroke="#b3173f" stroke-width="0.9"/>
<line x1="409.00" y1="114.20" x2="409.00" y2="117.40" stroke="#b3173f" stroke-width="0.9"/>
<line x1="412.00" y1="114.20" x2="412.00" y2="117.40" stroke="#b3173f" stroke-width="0.9"/>
<line x1="415.00" y1="114.20" x2="415.00" y2="117.40" stroke="#b3173f" stroke-width="0.9"/>
<line x1="418.00" y1="114.20" x2="418.00" y2="117.40" stroke="#b3173f" stroke-width="0.9"/>
<line x1="421.00" y1="114.20" x2="421.00" y2="117.40" stroke="#b3173f" stroke-width="0.9"/>
<line x1="424.00" y1="114.20" x2="424.00" y2="117.40" stroke="#b3173f" stroke-width="0.9"/>
<line x1="428.00" y1="114.20" x2="428.00" y2="117.40" stroke="#b3173f" stroke-width="0.9"/>
<line x1="431.00" y1="114.20" x2="431.00" y2="117.40" stroke="#b3173f" stroke-width="0.9"/>
<line x1="440.00" y1="114.20" x2="440.00" y2="117.40" stroke="#b3173f" stroke-width="0.9"/>
<line x1="445.00" y1="114.20" x2="445.00" y2="117.40" stroke="#b3173f" stroke-width="0.9"/>
<line x1="448.00" y1="114.20" x2="448.00" y2="117.40" stroke="#b3173f" stroke-width="0.9"/>
<line x1="466.00" y1="114.20" x2="466.00" y2="117.40" stroke="#b3173f" stroke-width="0.9"/>
<line x1="471.00" y1="114.20" x2="471.00" y2="117.40" stroke="#b3173f" stroke-width="0.9"/>
<line x1="479.80" y1="114.20" x2="479.80" y2="117.40" stroke="#b3173f" stroke-width="0.9"/>
<line x1="51.10" y1="318.20" x2="51.10" y2="457.20" stroke="#2e2e2e" stroke-width="1.3"/>
<line x1="50.50" y1="456.60" x2="245.80" y2="456.60" stroke="#2e2e2e" stroke-width="1.3"/>
<line x1="47.90" y1="450.50" x2="51.10" y2="450.50" stroke="#2e2e2e" stroke-width="1.1"/>
<text x="45.30" y="453.10" font-size="8.2" text-anchor="end" fill="#2c2c2c" stroke="#2c2c2c" stroke-width="0.1" >0</text>
<line x1="47.90" y1="418.98" x2="51.10" y2="418.98" stroke="#2e2e2e" stroke-width="1.1"/>
<text x="45.30" y="421.58" font-size="8.2" text-anchor="end" fill="#2c2c2c" stroke="#2c2c2c" stroke-width="0.1" >25</text>
<line x1="47.90" y1="387.45" x2="51.10" y2="387.45" stroke="#2e2e2e" stroke-width="1.1"/>
<text x="45.30" y="390.05" font-size="8.2" text-anchor="end" fill="#2c2c2c" stroke="#2c2c2c" stroke-width="0.1" >50</text>
<line x1="47.90" y1="355.92" x2="51.10" y2="355.92" stroke="#2e2e2e" stroke-width="1.1"/>
<text x="45.30" y="358.52" font-size="8.2" text-anchor="end" fill="#2c2c2c" stroke="#2c2c2c" stroke-width="0.1" >75</text>
<line x1="47.90" y1="324.40" x2="51.10" y2="324.40" stroke="#2e2e2e" stroke-width="1.1"/>
<text x="45.30" y="327.00" font-size="8.2" text-anchor="end" fill="#2c2c2c" stroke="#2c2c2c" stroke-width="0.1" >100</text>
<line x1="60.30" y1="456.60" x2="60.30" y2="459.80" stroke="#2e2e2e" stroke-width="1.1"/>
<text x="60.30" y="469.80" font-size="8.2" text-anchor="middle" fill="#2c2c2c" stroke="#2c2c2c" stroke-width="0.1" >0</text>
<line x1="76.34" y1="456.60" x2="76.34" y2="459.80" stroke="#2e2e2e" stroke-width="1.1"/>
<text x="76.34" y="469.80" font-size="8.2" text-anchor="middle" fill="#2c2c2c" stroke="#2c2c2c" stroke-width="0.1" >6</text>
<line x1="92.37" y1="456.60" x2="92.37" y2="459.80" stroke="#2e2e2e" stroke-width="1.1"/>
<text x="92.37" y="469.80" font-size="8.2" text-anchor="middle" fill="#2c2c2c" stroke="#2c2c2c" stroke-width="0.1" >12</text>
<line x1="108.41" y1="456.60" x2="108.41" y2="459.80" stroke="#2e2e2e" stroke-width="1.1"/>
<text x="108.41" y="469.80" font-size="8.2" text-anchor="middle" fill="#2c2c2c" stroke="#2c2c2c" stroke-width="0.1" >18</text>
<line x1="124.45" y1="456.60" x2="124.45" y2="459.80" stroke="#2e2e2e" stroke-width="1.1"/>
<text x="124.45" y="469.80" font-size="8.2" text-anchor="middle" fill="#2c2c2c" stroke="#2c2c2c" stroke-width="0.1" >24</text>
<line x1="140.48" y1="456.60" x2="140.48" y2="459.80" stroke="#2e2e2e" stroke-width="1.1"/>
<text x="140.48" y="469.80" font-size="8.2" text-anchor="middle" fill="#2c2c2c" stroke="#2c2c2c" stroke-width="0.1" >30</text>
<line x1="156.52" y1="456.60" x2="156.52" y2="459.80" stroke="#2e2e2e" stroke-width="1.1"/>
<text x="156.52" y="469.80" font-size="8.2" text-anchor="middle" fill="#2c2c2c" stroke="#2c2c2c" stroke-width="0.1" >36</text>
<line x1="172.55" y1="456.60" x2="172.55" y2="459.80" stroke="#2e2e2e" stroke-width="1.1"/>
<text x="172.55" y="469.80" font-size="8.2" text-anchor="middle" fill="#2c2c2c" stroke="#2c2c2c" stroke-width="0.1" >42</text>
<line x1="188.59" y1="456.60" x2="188.59" y2="459.80" stroke="#2e2e2e" stroke-width="1.1"/>
<text x="188.59" y="469.80" font-size="8.2" text-anchor="middle" fill="#2c2c2c" stroke="#2c2c2c" stroke-width="0.1" >48</text>
<line x1="204.63" y1="456.60" x2="204.63" y2="459.80" stroke="#2e2e2e" stroke-width="1.1"/>
<text x="204.63" y="469.80" font-size="8.2" text-anchor="middle" fill="#2c2c2c" stroke="#2c2c2c" stroke-width="0.1" >54</text>
<line x1="220.66" y1="456.60" x2="220.66" y2="459.80" stroke="#2e2e2e" stroke-width="1.1"/>
<text x="220.66" y="469.80" font-size="8.2" text-anchor="middle" fill="#2c2c2c" stroke="#2c2c2c" stroke-width="0.1" >60</text>
<line x1="236.70" y1="456.60" x2="236.70" y2="459.80" stroke="#2e2e2e" stroke-width="1.1"/>
<text x="236.70" y="469.80" font-size="8.2" text-anchor="middle" fill="#2c2c2c" stroke="#2c2c2c" stroke-width="0.1" >66</text>
<text x="0" y="0" font-size="9.8" fill="#1e1e1e" stroke="#1e1e1e" stroke-width="0.4" transform="translate(103.80,482.70) scale(0.55,1)" textLength="161.45" lengthAdjust="spacing">Months (after T-cell collection)</text>
<text x="0" y="0" font-size="9.6" text-anchor="middle" fill="#222" stroke="#222" stroke-width="0.15" transform="translate(27.20,386.90) rotate(-90) scale(0.6,1)" textLength="141.50" lengthAdjust="spacing">% alive and progression free</text>
<text x="148.35" y="300.80" font-size="9.5" text-anchor="middle" fill="#222" stroke="#222" stroke-width="0.1" textLength="157.40" lengthAdjust="spacingAndGlyphs" >LC transformed FL: PFS K-M curves by</text>
<text x="148.25" y="312.30" font-size="9.5" text-anchor="middle" fill="#222" stroke="#222" stroke-width="0.1" textLength="74.80" lengthAdjust="spacingAndGlyphs" >Severe4 (n = 118)</text>
<text x="7.30" y="287.10" font-size="11.2" text-anchor="start" fill="#000" font-weight="bold" stroke="#000" stroke-width="0.35">C</text>
<text x="65.10" y="436.00" font-size="7.1" fill="#2c2c2c" textLength="54.50" lengthAdjust="spacingAndGlyphs">log-rank <tspan font-style="italic">P</tspan> = .178</text>
<line x1="169.50" y1="334.30" x2="176.00" y2="334.30" stroke="#24537f" stroke-width="1.3"/>
<line x1="172.75" y1="333.00" x2="172.75" y2="335.80" stroke="#24537f" stroke-width="1.1"/>
<text x="179.50" y="336.80" font-size="7.5" text-anchor="start" fill="#2c2c2c" stroke="#2c2c2c" stroke-width="0.1" textLength="57.30" lengthAdjust="spacingAndGlyphs" >no severe comorb.</text>
<line x1="169.50" y1="345.30" x2="176.00" y2="345.30" stroke="#b3173f" stroke-width="1.3"/>
<path d="M171.05,345.00 L174.45,345.00 L172.75,347.50 Z" fill="#b3173f"/>
<text x="179.50" y="347.80" font-size="7.5" text-anchor="start" fill="#2c2c2c" stroke="#2c2c2c" stroke-width="0.1" textLength="60.00" lengthAdjust="spacingAndGlyphs" >severe in <tspan font-size="10" dy="1.0">&gt;</tspan><tspan font-weight="bold" dy="-1.0" dx="0.8">=</tspan> 1of 4</text>
<text x="51.40" y="493.10" font-size="7.1" text-anchor="start" fill="#2c2c2c" stroke="#2c2c2c" stroke-width="0.1" textLength="45.30" lengthAdjust="spacingAndGlyphs" >Number at risk</text>
<line x1="51.10" y1="498.50" x2="51.10" y2="523.00" stroke="#2e2e2e" stroke-width="1.3"/>
<line x1="48.30" y1="503.90" x2="51.10" y2="503.90" stroke="#2e2e2e" stroke-width="1.1"/>
<text x="45.50" y="506.50" font-size="7.3" text-anchor="end" fill="#46679c" stroke="#46679c" stroke-width="0.1" textLength="7.70" lengthAdjust="spacingAndGlyphs" >no</text>
<text x="60.30" y="506.80" font-size="8.2" text-anchor="middle" fill="#2c2c2c" stroke="#2c2c2c" stroke-width="0.1" >107</text>
<text x="76.34" y="506.80" font-size="8.2" text-anchor="middle" fill="#2c2c2c" stroke="#2c2c2c" stroke-width="0.1" >73</text>
<text x="92.37" y="506.80" font-size="8.2" text-anchor="middle" fill="#2c2c2c" stroke="#2c2c2c" stroke-width="0.1" >49</text>
<text x="108.41" y="506.80" font-size="8.2" text-anchor="middle" fill="#2c2c2c" stroke="#2c2c2c" stroke-width="0.1" >32</text>
<text x="124.45" y="506.80" font-size="8.2" text-anchor="middle" fill="#2c2c2c" stroke="#2c2c2c" stroke-width="0.1" >18</text>
<text x="140.48" y="506.80" font-size="8.2" text-anchor="middle" fill="#2c2c2c" stroke="#2c2c2c" stroke-width="0.1" >10</text>
<text x="156.52" y="506.80" font-size="8.2" text-anchor="middle" fill="#2c2c2c" stroke="#2c2c2c" stroke-width="0.1" >4</text>
<text x="172.55" y="506.80" font-size="8.2" text-anchor="middle" fill="#2c2c2c" stroke="#2c2c2c" stroke-width="0.1" >0</text>
<text x="188.59" y="506.80" font-size="8.2" text-anchor="middle" fill="#2c2c2c" stroke="#2c2c2c" stroke-width="0.1" >0</text>
<text x="204.63" y="506.80" font-size="8.2" text-anchor="middle" fill="#2c2c2c" stroke="#2c2c2c" stroke-width="0.1" >0</text>
<text x="220.66" y="506.80" font-size="8.2" text-anchor="middle" fill="#2c2c2c" stroke="#2c2c2c" stroke-width="0.1" >0</text>
<text x="236.70" y="506.80" font-size="8.2" text-anchor="middle" fill="#2c2c2c" stroke="#2c2c2c" stroke-width="0.1" >0</text>
<line x1="48.30" y1="517.60" x2="51.10" y2="517.60" stroke="#2e2e2e" stroke-width="1.1"/>
<text x="45.50" y="520.20" font-size="7.3" text-anchor="end" fill="#b3173f" stroke="#b3173f" stroke-width="0.1" textLength="10.30" lengthAdjust="spacingAndGlyphs" >yes</text>
<text x="60.30" y="520.50" font-size="8.2" text-anchor="middle" fill="#2c2c2c" stroke="#2c2c2c" stroke-width="0.1" >11</text>
<text x="76.34" y="520.50" font-size="8.2" text-anchor="middle" fill="#2c2c2c" stroke="#2c2c2c" stroke-width="0.1" >5</text>
<text x="92.37" y="520.50" font-size="8.2" text-anchor="middle" fill="#2c2c2c" stroke="#2c2c2c" stroke-width="0.1" >4</text>
<text x="108.41" y="520.50" font-size="8.2" text-anchor="middle" fill="#2c2c2c" stroke="#2c2c2c" stroke-width="0.1" >4</text>
<text x="124.45" y="520.50" font-size="8.2" text-anchor="middle" fill="#2c2c2c" stroke="#2c2c2c" stroke-width="0.1" >4</text>
<text x="140.48" y="520.50" font-size="8.2" text-anchor="middle" fill="#2c2c2c" stroke="#2c2c2c" stroke-width="0.1" >2</text>
<text x="156.52" y="520.50" font-size="8.2" text-anchor="middle" fill="#2c2c2c" stroke="#2c2c2c" stroke-width="0.1" >1</text>
<text x="172.55" y="520.50" font-size="8.2" text-anchor="middle" fill="#2c2c2c" stroke="#2c2c2c" stroke-width="0.1" >1</text>
<text x="188.59" y="520.50" font-size="8.2" text-anchor="middle" fill="#2c2c2c" stroke="#2c2c2c" stroke-width="0.1" >1</text>
<text x="204.63" y="520.50" font-size="8.2" text-anchor="middle" fill="#2c2c2c" stroke="#2c2c2c" stroke-width="0.1" >1</text>
<text x="220.66" y="520.50" font-size="8.2" text-anchor="middle" fill="#2c2c2c" stroke="#2c2c2c" stroke-width="0.1" >1</text>
<text x="236.70" y="520.50" font-size="8.2" text-anchor="middle" fill="#2c2c2c" stroke="#2c2c2c" stroke-width="0.1" >0</text>
<polyline points="61.00,324.40 62.50,324.40 62.50,335.90 64.80,335.90 64.80,347.40 66.10,347.40 66.10,358.80 70.60,358.80 70.60,381.60 76.20,381.60 76.20,404.50 225.00,404.50 225.00,404.50" fill="none" stroke="#b3173f" stroke-width="1.3" stroke-linejoin="round" />
<line x1="127.30" y1="402.90" x2="127.30" y2="406.10" stroke="#b3173f" stroke-width="0.9"/>
<line x1="130.40" y1="402.90" x2="130.40" y2="406.10" stroke="#b3173f" stroke-width="0.9"/>
<line x1="141.50" y1="402.90" x2="141.50" y2="406.10" stroke="#b3173f" stroke-width="0.9"/>
<line x1="225.00" y1="402.90" x2="225.00" y2="406.10" stroke="#b3173f" stroke-width="0.9"/>
<polyline points="61.00,324.40 63.70,327.60 65.10,334.30 67.50,341.10 69.50,347.80 70.90,352.60 73.50,356.50 77.30,358.40 77.30,363.50 83.10,367.70 84.80,370.60 88.80,370.60 91.20,373.50 96.90,377.50 100.40,379.50 105.00,379.80 106.70,382.10 119.40,382.10 119.40,385.10 138.30,385.10 138.30,390.50 167.90,390.50" fill="none" stroke="#24537f" stroke-width="1.4" stroke-linejoin="round" />
<line x1="80.00" y1="364.40" x2="80.00" y2="367.60" stroke="#24537f" stroke-width="0.9"/>
<line x1="86.00" y1="369.00" x2="86.00" y2="372.20" stroke="#24537f" stroke-width="0.9"/>
<line x1="93.00" y1="372.90" x2="93.00" y2="376.10" stroke="#24537f" stroke-width="0.9"/>
<line x1="98.00" y1="376.40" x2="98.00" y2="379.60" stroke="#24537f" stroke-width="0.9"/>
<line x1="103.00" y1="378.00" x2="103.00" y2="381.20" stroke="#24537f" stroke-width="0.9"/>
<line x1="109.00" y1="380.50" x2="109.00" y2="383.70" stroke="#24537f" stroke-width="0.9"/>
<line x1="112.00" y1="380.50" x2="112.00" y2="383.70" stroke="#24537f" stroke-width="0.9"/>
<line x1="115.00" y1="380.50" x2="115.00" y2="383.70" stroke="#24537f" stroke-width="0.9"/>
<line x1="125.50" y1="383.50" x2="125.50" y2="386.70" stroke="#24537f" stroke-width="0.9"/>
<line x1="128.80" y1="383.50" x2="128.80" y2="386.70" stroke="#24537f" stroke-width="0.9"/>
<line x1="132.20" y1="383.50" x2="132.20" y2="386.70" stroke="#24537f" stroke-width="0.9"/>
<line x1="136.20" y1="383.50" x2="136.20" y2="386.70" stroke="#24537f" stroke-width="0.9"/>
<line x1="143.60" y1="388.90" x2="143.60" y2="392.10" stroke="#24537f" stroke-width="0.9"/>
<line x1="153.00" y1="388.90" x2="153.00" y2="392.10" stroke="#24537f" stroke-width="0.9"/>
<line x1="160.50" y1="388.90" x2="160.50" y2="392.10" stroke="#24537f" stroke-width="0.9"/>
<line x1="162.50" y1="388.90" x2="162.50" y2="392.10" stroke="#24537f" stroke-width="0.9"/>
<line x1="167.90" y1="388.90" x2="167.90" y2="392.10" stroke="#24537f" stroke-width="0.9"/>
<line x1="312.40" y1="318.20" x2="312.40" y2="457.00" stroke="#2e2e2e" stroke-width="1.3"/>
<line x1="311.80" y1="456.40" x2="507.50" y2="456.40" stroke="#2e2e2e" stroke-width="1.3"/>
<line x1="309.20" y1="450.50" x2="312.40" y2="450.50" stroke="#2e2e2e" stroke-width="1.1"/>
<text x="306.60" y="453.10" font-size="8.2" text-anchor="end" fill="#2c2c2c" stroke="#2c2c2c" stroke-width="0.1" >0</text>
<line x1="309.20" y1="418.93" x2="312.40" y2="418.93" stroke="#2e2e2e" stroke-width="1.1"/>
<text x="306.60" y="421.53" font-size="8.2" text-anchor="end" fill="#2c2c2c" stroke="#2c2c2c" stroke-width="0.1" >25</text>
<line x1="309.20" y1="387.35" x2="312.40" y2="387.35" stroke="#2e2e2e" stroke-width="1.1"/>
<text x="306.60" y="389.95" font-size="8.2" text-anchor="end" fill="#2c2c2c" stroke="#2c2c2c" stroke-width="0.1" >50</text>
<line x1="309.20" y1="355.77" x2="312.40" y2="355.77" stroke="#2e2e2e" stroke-width="1.1"/>
<text x="306.60" y="358.38" font-size="8.2" text-anchor="end" fill="#2c2c2c" stroke="#2c2c2c" stroke-width="0.1" >75</text>
<line x1="309.20" y1="324.20" x2="312.40" y2="324.20" stroke="#2e2e2e" stroke-width="1.1"/>
<text x="306.60" y="326.80" font-size="8.2" text-anchor="end" fill="#2c2c2c" stroke="#2c2c2c" stroke-width="0.1" >100</text>
<line x1="321.40" y1="456.40" x2="321.40" y2="459.60" stroke="#2e2e2e" stroke-width="1.1"/>
<text x="321.40" y="469.60" font-size="8.2" text-anchor="middle" fill="#2c2c2c" stroke="#2c2c2c" stroke-width="0.1" >0</text>
<line x1="337.49" y1="456.40" x2="337.49" y2="459.60" stroke="#2e2e2e" stroke-width="1.1"/>
<text x="337.49" y="469.60" font-size="8.2" text-anchor="middle" fill="#2c2c2c" stroke="#2c2c2c" stroke-width="0.1" >6</text>
<line x1="353.58" y1="456.40" x2="353.58" y2="459.60" stroke="#2e2e2e" stroke-width="1.1"/>
<text x="353.58" y="469.60" font-size="8.2" text-anchor="middle" fill="#2c2c2c" stroke="#2c2c2c" stroke-width="0.1" >12</text>
<line x1="369.67" y1="456.40" x2="369.67" y2="459.60" stroke="#2e2e2e" stroke-width="1.1"/>
<text x="369.67" y="469.60" font-size="8.2" text-anchor="middle" fill="#2c2c2c" stroke="#2c2c2c" stroke-width="0.1" >18</text>
<line x1="385.76" y1="456.40" x2="385.76" y2="459.60" stroke="#2e2e2e" stroke-width="1.1"/>
<text x="385.76" y="469.60" font-size="8.2" text-anchor="middle" fill="#2c2c2c" stroke="#2c2c2c" stroke-width="0.1" >24</text>
<line x1="401.85" y1="456.40" x2="401.85" y2="459.60" stroke="#2e2e2e" stroke-width="1.1"/>
<text x="401.85" y="469.60" font-size="8.2" text-anchor="middle" fill="#2c2c2c" stroke="#2c2c2c" stroke-width="0.1" >30</text>
<line x1="417.95" y1="456.40" x2="417.95" y2="459.60" stroke="#2e2e2e" stroke-width="1.1"/>
<text x="417.95" y="469.60" font-size="8.2" text-anchor="middle" fill="#2c2c2c" stroke="#2c2c2c" stroke-width="0.1" >36</text>
<line x1="434.04" y1="456.40" x2="434.04" y2="459.60" stroke="#2e2e2e" stroke-width="1.1"/>
<text x="434.04" y="469.60" font-size="8.2" text-anchor="middle" fill="#2c2c2c" stroke="#2c2c2c" stroke-width="0.1" >42</text>
<line x1="450.13" y1="456.40" x2="450.13" y2="459.60" stroke="#2e2e2e" stroke-width="1.1"/>
<text x="450.13" y="469.60" font-size="8.2" text-anchor="middle" fill="#2c2c2c" stroke="#2c2c2c" stroke-width="0.1" >48</text>
<line x1="466.22" y1="456.40" x2="466.22" y2="459.60" stroke="#2e2e2e" stroke-width="1.1"/>
<text x="466.22" y="469.60" font-size="8.2" text-anchor="middle" fill="#2c2c2c" stroke="#2c2c2c" stroke-width="0.1" >54</text>
<line x1="482.31" y1="456.40" x2="482.31" y2="459.60" stroke="#2e2e2e" stroke-width="1.1"/>
<text x="482.31" y="469.60" font-size="8.2" text-anchor="middle" fill="#2c2c2c" stroke="#2c2c2c" stroke-width="0.1" >60</text>
<line x1="498.40" y1="456.40" x2="498.40" y2="459.60" stroke="#2e2e2e" stroke-width="1.1"/>
<text x="498.40" y="469.60" font-size="8.2" text-anchor="middle" fill="#2c2c2c" stroke="#2c2c2c" stroke-width="0.1" >66</text>
<text x="0" y="0" font-size="9.8" fill="#1e1e1e" stroke="#1e1e1e" stroke-width="0.4" transform="translate(365.00,482.70) scale(0.55,1)" textLength="161.45" lengthAdjust="spacing">Months (after T-cell collection)</text>
<text x="0" y="0" font-size="9.6" text-anchor="middle" fill="#222" stroke="#222" stroke-width="0.15" transform="translate(287.30,387.00) rotate(-90) scale(0.6,1)" textLength="77.83" lengthAdjust="spacing">Percentage alive</text>
<text x="412.60" y="303.80" font-size="9.5" text-anchor="middle" fill="#222" stroke="#222" stroke-width="0.1" textLength="153.50" lengthAdjust="spacingAndGlyphs" >LC transformed FL: OS K-M curves by</text>
<text x="412.75" y="314.60" font-size="9.5" text-anchor="middle" fill="#222" stroke="#222" stroke-width="0.1" textLength="74.80" lengthAdjust="spacingAndGlyphs" >Severe4 (n = 118)</text>
<text x="267.90" y="286.80" font-size="11.2" text-anchor="start" fill="#000" font-weight="bold" stroke="#000" stroke-width="0.35">D</text>
<text x="325.80" y="436.00" font-size="7.1" fill="#2c2c2c" textLength="54.50" lengthAdjust="spacingAndGlyphs">log-rank <tspan font-style="italic">P</tspan> = .174</text>
<line x1="431.40" y1="334.20" x2="437.90" y2="334.20" stroke="#24537f" stroke-width="1.3"/>
<line x1="434.65" y1="332.90" x2="434.65" y2="335.70" stroke="#24537f" stroke-width="1.1"/>
<text x="441.40" y="336.70" font-size="7.5" text-anchor="start" fill="#2c2c2c" stroke="#2c2c2c" stroke-width="0.1" textLength="57.30" lengthAdjust="spacingAndGlyphs" >no severe comorb.</text>
<line x1="431.40" y1="345.20" x2="437.90" y2="345.20" stroke="#b3173f" stroke-width="1.3"/>
<path d="M432.95,344.90 L436.35,344.90 L434.65,347.40 Z" fill="#b3173f"/>
<text x="441.40" y="347.70" font-size="7.5" text-anchor="start" fill="#2c2c2c" stroke="#2c2c2c" stroke-width="0.1" textLength="60.00" lengthAdjust="spacingAndGlyphs" >severe in <tspan font-size="10" dy="1.0">&gt;</tspan><tspan font-weight="bold" dy="-1.0" dx="0.8">=</tspan> 1of 4</text>
<text x="312.60" y="493.00" font-size="7.1" text-anchor="start" fill="#2c2c2c" stroke="#2c2c2c" stroke-width="0.1" textLength="45.30" lengthAdjust="spacingAndGlyphs" >Number at risk</text>
<line x1="312.40" y1="498.50" x2="312.40" y2="523.00" stroke="#2e2e2e" stroke-width="1.3"/>
<line x1="309.60" y1="503.90" x2="312.40" y2="503.90" stroke="#2e2e2e" stroke-width="1.1"/>
<text x="306.80" y="506.50" font-size="7.3" text-anchor="end" fill="#46679c" stroke="#46679c" stroke-width="0.1" textLength="7.70" lengthAdjust="spacingAndGlyphs" >no</text>
<text x="321.40" y="506.80" font-size="8.2" text-anchor="middle" fill="#2c2c2c" stroke="#2c2c2c" stroke-width="0.1" >107</text>
<text x="337.49" y="506.80" font-size="8.2" text-anchor="middle" fill="#2c2c2c" stroke="#2c2c2c" stroke-width="0.1" >84</text>
<text x="353.58" y="506.80" font-size="8.2" text-anchor="middle" fill="#2c2c2c" stroke="#2c2c2c" stroke-width="0.1" >62</text>
<text x="369.67" y="506.80" font-size="8.2" text-anchor="middle" fill="#2c2c2c" stroke="#2c2c2c" stroke-width="0.1" >41</text>
<text x="385.76" y="506.80" font-size="8.2" text-anchor="middle" fill="#2c2c2c" stroke="#2c2c2c" stroke-width="0.1" >25</text>
<text x="401.85" y="506.80" font-size="8.2" text-anchor="middle" fill="#2c2c2c" stroke="#2c2c2c" stroke-width="0.1" >14</text>
<text x="417.95" y="506.80" font-size="8.2" text-anchor="middle" fill="#2c2c2c" stroke="#2c2c2c" stroke-width="0.1" >6</text>
<text x="434.04" y="506.80" font-size="8.2" text-anchor="middle" fill="#2c2c2c" stroke="#2c2c2c" stroke-width="0.1" >0</text>
<text x="450.13" y="506.80" font-size="8.2" text-anchor="middle" fill="#2c2c2c" stroke="#2c2c2c" stroke-width="0.1" >0</text>
<text x="466.22" y="506.80" font-size="8.2" text-anchor="middle" fill="#2c2c2c" stroke="#2c2c2c" stroke-width="0.1" >0</text>
<text x="482.31" y="506.80" font-size="8.2" text-anchor="middle" fill="#2c2c2c" stroke="#2c2c2c" stroke-width="0.1" >0</text>
<text x="498.40" y="506.80" font-size="8.2" text-anchor="middle" fill="#2c2c2c" stroke="#2c2c2c" stroke-width="0.1" >0</text>
<line x1="309.60" y1="517.60" x2="312.40" y2="517.60" stroke="#2e2e2e" stroke-width="1.1"/>
<text x="306.80" y="520.20" font-size="7.3" text-anchor="end" fill="#b3173f" stroke="#b3173f" stroke-width="0.1" textLength="10.30" lengthAdjust="spacingAndGlyphs" >yes</text>
<text x="321.40" y="520.50" font-size="8.2" text-anchor="middle" fill="#2c2c2c" stroke="#2c2c2c" stroke-width="0.1" >11</text>
<text x="337.49" y="520.50" font-size="8.2" text-anchor="middle" fill="#2c2c2c" stroke="#2c2c2c" stroke-width="0.1" >8</text>
<text x="353.58" y="520.50" font-size="8.2" text-anchor="middle" fill="#2c2c2c" stroke="#2c2c2c" stroke-width="0.1" >5</text>
<text x="369.67" y="520.50" font-size="8.2" text-anchor="middle" fill="#2c2c2c" stroke="#2c2c2c" stroke-width="0.1" >4</text>
<text x="385.76" y="520.50" font-size="8.2" text-anchor="middle" fill="#2c2c2c" stroke="#2c2c2c" stroke-width="0.1" >4</text>
<text x="401.85" y="520.50" font-size="8.2" text-anchor="middle" fill="#2c2c2c" stroke="#2c2c2c" stroke-width="0.1" >2</text>
<text x="417.95" y="520.50" font-size="8.2" text-anchor="middle" fill="#2c2c2c" stroke="#2c2c2c" stroke-width="0.1" >1</text>
<text x="434.04" y="520.50" font-size="8.2" text-anchor="middle" fill="#2c2c2c" stroke="#2c2c2c" stroke-width="0.1" >1</text>
<text x="450.13" y="520.50" font-size="8.2" text-anchor="middle" fill="#2c2c2c" stroke="#2c2c2c" stroke-width="0.1" >1</text>
<text x="466.22" y="520.50" font-size="8.2" text-anchor="middle" fill="#2c2c2c" stroke="#2c2c2c" stroke-width="0.1" >1</text>
<text x="482.31" y="520.50" font-size="8.2" text-anchor="middle" fill="#2c2c2c" stroke="#2c2c2c" stroke-width="0.1" >1</text>
<text x="498.40" y="520.50" font-size="8.2" text-anchor="middle" fill="#2c2c2c" stroke="#2c2c2c" stroke-width="0.1" >0</text>
<polyline points="321.60,324.30 323.50,324.30 323.50,335.90 327.50,335.90 327.50,347.40 331.40,347.40 331.40,358.40 339.70,358.40 339.70,370.10 341.00,370.10 341.00,381.30 358.90,381.30 358.90,395.20 486.50,395.20 486.50,395.30" fill="none" stroke="#b3173f" stroke-width="1.3" stroke-linejoin="round" />
<line x1="346.80" y1="379.70" x2="346.80" y2="382.90" stroke="#b3173f" stroke-width="0.9"/>
<line x1="388.50" y1="393.70" x2="388.50" y2="396.90" stroke="#b3173f" stroke-width="0.9"/>
<line x1="391.90" y1="393.70" x2="391.90" y2="396.90" stroke="#b3173f" stroke-width="0.9"/>
<line x1="403.10" y1="393.70" x2="403.10" y2="396.90" stroke="#b3173f" stroke-width="0.9"/>
<line x1="486.50" y1="393.70" x2="486.50" y2="396.90" stroke="#b3173f" stroke-width="0.9"/>
<polyline points="321.60,324.30 325.60,328.60 327.50,333.40 329.50,335.80 332.80,338.70 334.30,344.00 336.20,345.90 340.00,346.80 342.00,349.70 344.80,352.10 349.20,356.00 353.00,357.90 355.40,361.30 359.30,363.20 364.10,363.50 369.00,366.80 376.40,367.10 377.10,370.30 398.00,370.40 398.00,374.60 400.00,374.60 400.00,379.50 430.30,379.50" fill="none" stroke="#24537f" stroke-width="1.4" stroke-linejoin="round" />
<line x1="338.00" y1="344.90" x2="338.00" y2="348.10" stroke="#24537f" stroke-width="0.9"/>
<line x1="346.00" y1="349.90" x2="346.00" y2="353.10" stroke="#24537f" stroke-width="0.9"/>
<line x1="352.00" y1="355.80" x2="352.00" y2="359.00" stroke="#24537f" stroke-width="0.9"/>
<line x1="357.00" y1="360.00" x2="357.00" y2="363.20" stroke="#24537f" stroke-width="0.9"/>
<line x1="362.00" y1="361.70" x2="362.00" y2="364.90" stroke="#24537f" stroke-width="0.9"/>
<line x1="367.00" y1="365.20" x2="367.00" y2="368.40" stroke="#24537f" stroke-width="0.9"/>
<line x1="372.00" y1="365.50" x2="372.00" y2="368.70" stroke="#24537f" stroke-width="0.9"/>
<line x1="381.80" y1="368.80" x2="381.80" y2="372.00" stroke="#24537f" stroke-width="0.9"/>
<line x1="386.00" y1="368.80" x2="386.00" y2="372.00" stroke="#24537f" stroke-width="0.9"/>
<line x1="390.00" y1="368.80" x2="390.00" y2="372.00" stroke="#24537f" stroke-width="0.9"/>
<line x1="393.00" y1="368.80" x2="393.00" y2="372.00" stroke="#24537f" stroke-width="0.9"/>
<line x1="404.60" y1="377.90" x2="404.60" y2="381.10" stroke="#24537f" stroke-width="0.9"/>
<line x1="407.70" y1="377.90" x2="407.70" y2="381.10" stroke="#24537f" stroke-width="0.9"/>
<line x1="414.60" y1="377.90" x2="414.60" y2="381.10" stroke="#24537f" stroke-width="0.9"/>
<line x1="420.00" y1="377.90" x2="420.00" y2="381.10" stroke="#24537f" stroke-width="0.9"/>
<line x1="422.00" y1="377.90" x2="422.00" y2="381.10" stroke="#24537f" stroke-width="0.9"/>
<line x1="425.00" y1="377.90" x2="425.00" y2="381.10" stroke="#24537f" stroke-width="0.9"/>
<line x1="430.30" y1="377.90" x2="430.30" y2="381.10" stroke="#24537f" stroke-width="0.9"/>
</g>
<rect x="0.5" y="0.5" width="519" height="529" fill="none" stroke="#555" stroke-width="1"/>
</svg>
</body></html>
